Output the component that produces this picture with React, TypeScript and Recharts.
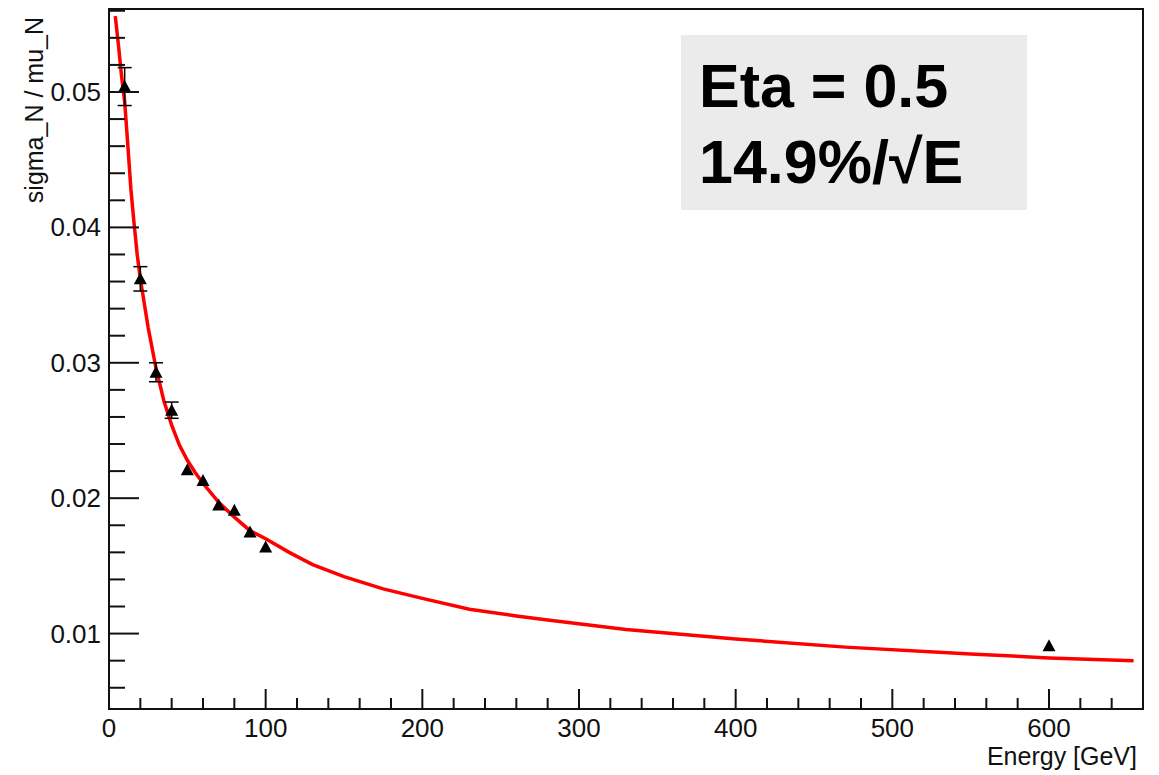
import { ComposedChart, XAxis, YAxis, Line, Scatter, ErrorBar, ReferenceArea } from "recharts";

// measured points: energy [GeV], sigma_N / mu_N and its error (errors below marker size read as 0)
const energies = [10, 20, 30, 40, 50, 60, 70, 80, 90, 100, 600];
const resolution = [0.0504, 0.0362, 0.0293, 0.0265, 0.0221, 0.0213, 0.0195, 0.0191, 0.0175, 0.0164, 0.0091];
const resolutionErr = [0.0014, 0.0009, 0.0007, 0.0006, 0, 0, 0, 0, 0, 0, 0];

// fitted curve
const fitEnergy = [4, 6, 8, 10, 12, 14, 16, 18, 20, 25, 30, 35, 40, 45, 50, 55, 60, 70, 80, 90, 100, 115, 130, 150, 175, 200, 230, 260, 280, 330, 400, 470, 550, 600, 654];
const fitValue = [0.0556, 0.0535, 0.0512, 0.0493, 0.0461, 0.0428, 0.0403, 0.038, 0.0362, 0.0326, 0.0296, 0.0272, 0.0254, 0.0239, 0.0228, 0.0219, 0.0211, 0.0197, 0.0186, 0.0176, 0.017, 0.016, 0.0151, 0.0142, 0.0133, 0.0126, 0.0118, 0.0113, 0.011, 0.0103, 0.0096, 0.009, 0.0085, 0.0082, 0.008];

const xTicks = [0, 20, 40, 60, 80, 100, 120, 140, 160, 180, 200, 220, 240, 260, 280, 300, 320, 340, 360, 380, 400, 420, 440, 460, 480, 500, 520, 540, 560, 580, 600, 620, 640];
const xMajor = [0, 100, 200, 300, 400, 500, 600];
const yTicks = [0.006, 0.008, 0.01, 0.012, 0.014, 0.016, 0.018, 0.02, 0.022, 0.024, 0.026, 0.028, 0.03, 0.032, 0.034, 0.036, 0.038, 0.04, 0.042, 0.044, 0.046, 0.048, 0.05, 0.052, 0.054, 0.056];
const yMajor = [0.01, 0.02, 0.03, 0.04, 0.05];

const xDomain = [0, 660];
const yDomain = [0.00443, 0.05613];

const points = energies.map((e, i) => ({ e, v: resolution[i], err: resolutionErr[i] }));
const curve = fitEnergy.map((e, i) => ({ e, v: fitValue[i] }));

const ink = "#111";
const font = "'Liberation Sans', Arial, sans-serif";

function YTick(props: any) {
    const { x, y, payload } = props;
    const major = yMajor.includes(payload.value);
    return (
        <g>
            <line x1={x} x2={x + (major ? 30 : 16)} y1={y} y2={y} stroke={ink} strokeWidth={2} />
            {major && (
                <text x={x - 8} y={y + 9} textAnchor="end" fontSize={26} fontFamily={font} fill={ink}>
                    {String(payload.value)}
                </text>
            )}
        </g>
    );
}

function XTick(props: any) {
    const { x, y, payload } = props;
    const major = xMajor.includes(payload.value);
    return (
        <g>
            <line x1={x} x2={x} y1={y} y2={y - (major ? 20 : 11)} stroke={ink} strokeWidth={2} />
            {major && (
                <text x={x} y={y + 28} textAnchor="middle" fontSize={26} fontFamily={font} fill={ink}>
                    {String(payload.value)}
                </text>
            )}
        </g>
    );
}

function Triangle(props: any) {
    const { cx, cy } = props;
    return <path d={`M${cx - 6.5},${cy + 5.5} L${cx + 6.5},${cy + 5.5} L${cx},${cy - 6.5} Z`} fill="#000" />;
}

export default function App() {
    return (
        <div style={{ position: "absolute", left: 0, top: 0, width: 1159, height: 775, background: "#fff" }}>
            <ComposedChart width={1159} height={775} margin={{ top: 9, right: 16, left: 0, bottom: 0 }}>
                <XAxis
                    dataKey="e"
                    type="number"
                    domain={xDomain}
                    allowDataOverflow
                    ticks={xTicks}
                    interval={0}
                    tick={<XTick />}
                    tickSize={0}
                    tickMargin={0}
                    tickLine={false}
                    height={66}
                    axisLine={{ stroke: ink, strokeWidth: 2 }}
                    label={{
                        content: () => (
                            <text x={1137} y={765} textAnchor="end" fontSize={25} fontFamily={font} fill={ink}>
                                Energy [GeV]
                            </text>
                        ),
                    }}
                />
                <YAxis
                    type="number"
                    domain={yDomain}
                    allowDataOverflow
                    ticks={yTicks}
                    interval={0}
                    tick={<YTick />}
                    tickSize={0}
                    tickMargin={0}
                    tickLine={false}
                    width={109}
                    axisLine={{ stroke: ink, strokeWidth: 2 }}
                    label={{
                        content: () => (
                            <text
                                x={43}
                                y={17}
                                transform="rotate(-90, 43, 17)"
                                textAnchor="end"
                                fontSize={25}
                                fontFamily={font}
                                fill={ink}
                            >
                                sigma_N / mu_N
                            </text>
                        ),
                    }}
                />
                <ReferenceArea
                    x1={xDomain[0]}
                    x2={xDomain[1]}
                    y1={yDomain[0]}
                    y2={yDomain[1]}
                    fill="none"
                    stroke={ink}
                    strokeWidth={2}
                />
                <Line
                    data={curve}
                    dataKey="v"
                    type="linear"
                    stroke="#ff0000"
                    strokeWidth={3.5}
                    dot={false}
                    activeDot={false}
                    isAnimationActive={false}
                />
                <Scatter data={points} dataKey="v" shape={<Triangle />} isAnimationActive={false}>
                    <ErrorBar dataKey="err" direction="y" width={7} stroke="#000" strokeWidth={1.5} />
                </Scatter>
            </ComposedChart>
            <div
                style={{
                    position: "absolute",
                    left: 681,
                    top: 35,
                    width: 346,
                    height: 175,
                    boxSizing: "border-box",
                    background: "#ebebeb",
                    paddingTop: 13,
                    paddingLeft: 18,
                    fontFamily: font,
                    fontWeight: "bold",
                    fontSize: 61,
                    lineHeight: "76px",
                    color: "#000",
                }}
            >
                <div>Eta = 0.5</div>
                <div>14.9%/√E</div>
            </div>
        </div>
    );
}
